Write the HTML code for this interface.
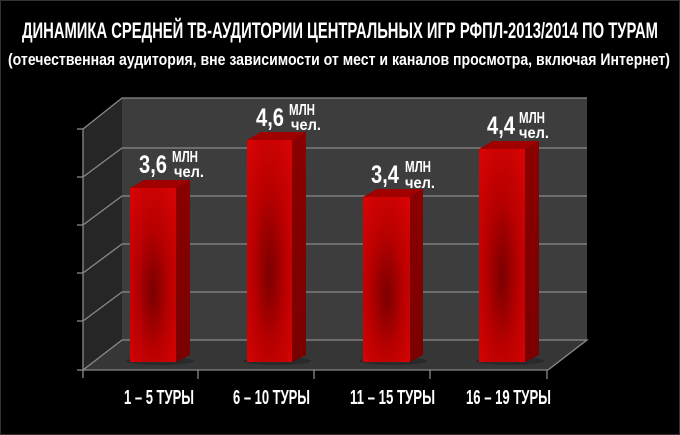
<!DOCTYPE html>
<html><head><meta charset="utf-8"><style>html,body{margin:0;padding:0;background:#000}svg{display:block}</style></head><body>
<svg width="680" height="435" viewBox="0 0 680 435" xmlns="http://www.w3.org/2000/svg" font-family="Liberation Sans, sans-serif" font-weight="bold">
<defs>
<radialGradient id="fr" cx="0.5" cy="0.55" r="0.7" fx="0.5" fy="0.6">
<stop offset="0" stop-color="#7a0000"/><stop offset="0.5" stop-color="#b80000"/><stop offset="1" stop-color="#d80404"/></radialGradient>
<linearGradient id="sd" x1="0" y1="0" x2="0" y2="1"><stop offset="0" stop-color="#8a0000"/><stop offset="1" stop-color="#7a0000"/></linearGradient>
</defs>
<rect width="680" height="435" fill="#000"/>
<rect x="0.5" y="0.5" width="679" height="434" fill="none" stroke="#333"/>
<text x="340" y="38" text-anchor="middle" fill="#fff" font-size="22" textLength="636" lengthAdjust="spacingAndGlyphs">ДИНАМИКА СРЕДНЕЙ ТВ-АУДИТОРИИ ЦЕНТРАЛЬНЫХ ИГР РФПЛ-2013/2014 ПО ТУРАМ</text>
<text x="339" y="65" text-anchor="middle" fill="#fff" font-size="16.5" textLength="662" lengthAdjust="spacingAndGlyphs">(отечественная аудитория, вне зависимости от мест и каналов просмотра, включая Интернет)</text>
<polygon points="122,98 587,98 587,340 122,340" fill="#3d3d3d"/>
<polygon points="83,129 122,98 122,340 83,370" fill="#262626"/>
<polygon points="83,370 122,340 587,340 548,370" fill="#363636"/>
<g stroke="#8a8a8a" stroke-width="1.3" fill="none">
<polyline points="83,129 122,98 587,98"/>
<polyline points="83,177 122,148 587,148"/>
<polyline points="83,225 122,196 587,196"/>
<polyline points="83,273 122,244 587,244"/>
<polyline points="83,321 122,292 587,292"/>
<polyline points="83,370 122,340 587,340 548,370"/>
<line x1="83" y1="129" x2="83" y2="378"/>
<line x1="83" y1="370" x2="548" y2="370"/>
<line x1="77" y1="129" x2="83" y2="129"/><line x1="77" y1="177" x2="83" y2="177"/><line x1="77" y1="225" x2="83" y2="225"/><line x1="77" y1="273" x2="83" y2="273"/><line x1="77" y1="321" x2="83" y2="321"/><line x1="77" y1="370" x2="83" y2="370"/>
<line x1="198" y1="370" x2="198" y2="379"/><line x1="314" y1="370" x2="314" y2="379"/><line x1="430" y1="370" x2="430" y2="379"/><line x1="547" y1="370" x2="547" y2="379"/>
</g>
<g>
<ellipse cx="160" cy="361" rx="34" ry="4" fill="#2a2a2a"/>
<polygon points="176,188 190,180 190,355 176,362" fill="url(#sd)"/>
<polygon points="130,188 144,180 190,180 176,188" fill="#a00000"/>
<rect x="130" y="188" width="46" height="174" fill="url(#fr)"/>
<ellipse cx="277" cy="361" rx="34" ry="4" fill="#2a2a2a"/>
<polygon points="292,140 306,132 306,355 292,362" fill="url(#sd)"/>
<polygon points="247,140 261,132 306,132 292,140" fill="#a00000"/>
<rect x="247" y="140" width="45" height="222" fill="url(#fr)"/>
<ellipse cx="393" cy="361" rx="34" ry="4" fill="#2a2a2a"/>
<polygon points="410,197 423,189 423,355 410,362" fill="url(#sd)"/>
<polygon points="363,197 377,189 423,189 410,197" fill="#a00000"/>
<rect x="363" y="197" width="47" height="165" fill="url(#fr)"/>
<ellipse cx="510" cy="361" rx="34" ry="4" fill="#2a2a2a"/>
<polygon points="525,149 539,141 539,355 525,362" fill="url(#sd)"/>
<polygon points="479,149 493,141 539,141 525,149" fill="#a00000"/>
<rect x="479" y="149" width="46" height="213" fill="url(#fr)"/>
</g>
<g fill="#fff">
<text x="139" y="173" font-size="25" textLength="28" lengthAdjust="spacingAndGlyphs">3,6</text>
<text x="172" y="162" font-size="16" textLength="26" lengthAdjust="spacingAndGlyphs">МЛН</text>
<text x="174" y="177" font-size="16" textLength="30" lengthAdjust="spacingAndGlyphs">чел.</text>
<text x="256" y="126" font-size="25" textLength="28" lengthAdjust="spacingAndGlyphs">4,6</text>
<text x="289" y="115" font-size="16" textLength="26" lengthAdjust="spacingAndGlyphs">МЛН</text>
<text x="291" y="130" font-size="16" textLength="30" lengthAdjust="spacingAndGlyphs">чел.</text>
<text x="371" y="183" font-size="25" textLength="28" lengthAdjust="spacingAndGlyphs">3,4</text>
<text x="405" y="172" font-size="16" textLength="26" lengthAdjust="spacingAndGlyphs">МЛН</text>
<text x="405" y="188" font-size="16" textLength="30" lengthAdjust="spacingAndGlyphs">чел.</text>
<text x="487" y="134" font-size="25" textLength="28" lengthAdjust="spacingAndGlyphs">4,4</text>
<text x="519" y="123" font-size="16" textLength="26" lengthAdjust="spacingAndGlyphs">МЛН</text>
<text x="519" y="138" font-size="16" textLength="30" lengthAdjust="spacingAndGlyphs">чел.</text>
</g>
<g fill="#fff" font-size="20">
<text x="124" y="404" textLength="70" lengthAdjust="spacingAndGlyphs">1 – 5 ТУРЫ</text>
<text x="233" y="404" textLength="77" lengthAdjust="spacingAndGlyphs">6 – 10 ТУРЫ</text>
<text x="350" y="404" textLength="85" lengthAdjust="spacingAndGlyphs">11 – 15 ТУРЫ</text>
<text x="466" y="404" textLength="85" lengthAdjust="spacingAndGlyphs">16 – 19 ТУРЫ</text>
</g>
</svg>
</body></html>
